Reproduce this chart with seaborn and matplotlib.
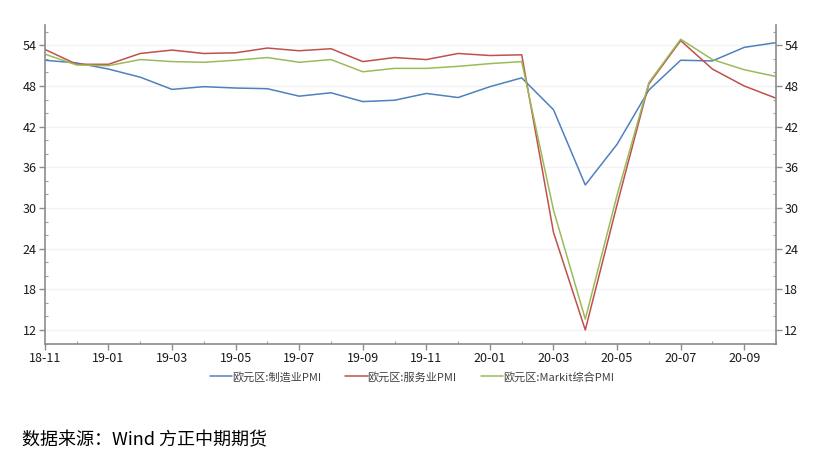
import matplotlib
matplotlib.use("Agg")
import matplotlib.pyplot as plt
import matplotlib.ticker as mticker
import seaborn as sns
import pandas as pd
import numpy as np

months = ["18-11", "18-12", "19-01", "19-02", "19-03", "19-04", "19-05", "19-06",
          "19-07", "19-08", "19-09", "19-10", "19-11", "19-12", "20-01", "20-02",
          "20-03", "20-04", "20-05", "20-06", "20-07", "20-08", "20-09", "20-10"]
manufacturing = [51.8, 51.4, 50.5, 49.3, 47.5, 47.9, 47.7, 47.6, 46.5, 47.0, 45.7, 45.9,
                 46.9, 46.3, 47.9, 49.2, 44.5, 33.4, 39.4, 47.4, 51.8, 51.7, 53.7, 54.4]
services = [53.4, 51.2, 51.2, 52.8, 53.3, 52.8, 52.9, 53.6, 53.2, 53.5, 51.6, 52.2,
            51.9, 52.8, 52.5, 52.6, 26.4, 12.0, 30.5, 48.3, 54.7, 50.5, 48.0, 46.2]
composite = [52.7, 51.1, 51.0, 51.9, 51.6, 51.5, 51.8, 52.2, 51.5, 51.9, 50.1, 50.6,
             50.6, 50.9, 51.3, 51.6, 29.7, 13.6, 31.9, 48.5, 54.9, 51.9, 50.4, 49.4]
series_names = ["欧元区:制造业PMI", "欧元区:服务业PMI", "欧元区:Markit综合PMI"]
colors = ["#4F81BD", "#C0504D", "#9BBB59"]
source_text = "数据来源：Wind 方正中期期货"

sns.set_theme(style="white")
plt.rcParams["font.family"] = ["Noto Sans CJK SC", "DejaVu Sans"]

df = pd.DataFrame({
    "idx": list(range(len(months))) * 3,
    "value": manufacturing + services + composite,
    "series": [series_names[0]] * len(months) + [series_names[1]] * len(months)
              + [series_names[2]] * len(months),
})

fig = plt.figure(figsize=(8.16, 4.63), dpi=100)
ax = fig.add_axes([0.055, 0.258, 0.896, 0.688])

sns.lineplot(data=df, x="idx", y="value", hue="series", palette=colors,
             hue_order=series_names, ax=ax, linewidth=1.1, legend=False)

ax.set_xlim(0, len(months) - 1)
ax.set_ylim(10, 57)
ax.set_xlabel("")
ax.set_ylabel("")

ax.xaxis.set_major_locator(mticker.FixedLocator(range(0, len(months), 2)))
ax.set_xticklabels([months[i] for i in range(0, len(months), 2)])
ax.xaxis.set_minor_locator(mticker.MultipleLocator(1))
ax.yaxis.set_major_locator(mticker.FixedLocator([12, 18, 24, 30, 36, 42, 48, 54]))
ax.yaxis.set_minor_locator(mticker.FixedLocator(np.arange(10, 57, 2)))

ax.grid(axis="y", which="major", color="#F2F2F2", linewidth=1)
for s in ["left", "right", "bottom"]:
    ax.spines[s].set_visible(True)
    ax.spines[s].set_color("#8C8C8C")
    ax.spines[s].set_linewidth(1.2)
ax.spines["top"].set_visible(False)

ax.tick_params(axis="both", which="major", direction="out", length=4, width=1,
               color="#8C8C8C", labelsize=9, labelcolor="#1a1a1a", pad=2)
ax.tick_params(axis="y", which="both", left=True, right=True, labelleft=True, labelright=True)
ax.tick_params(axis="x", which="both", bottom=True)
ax.tick_params(which="minor", direction="in", length=2, width=0.8, color="#A0A0A0")

handles = [plt.Line2D([0], [0], color=c, lw=1.1) for c in colors]
fig.legend(handles, series_names, loc="center", bbox_to_anchor=(0.505, 0.186), ncol=3,
           frameon=False, fontsize=8, handlelength=2.0, handletextpad=0.0,
           columnspacing=2.2, labelcolor="#404040")

fig.text(0.027, 0.048, source_text, fontsize=13, color="#000000", ha="left", va="center")

fig.savefig("out.png", dpi=100)
